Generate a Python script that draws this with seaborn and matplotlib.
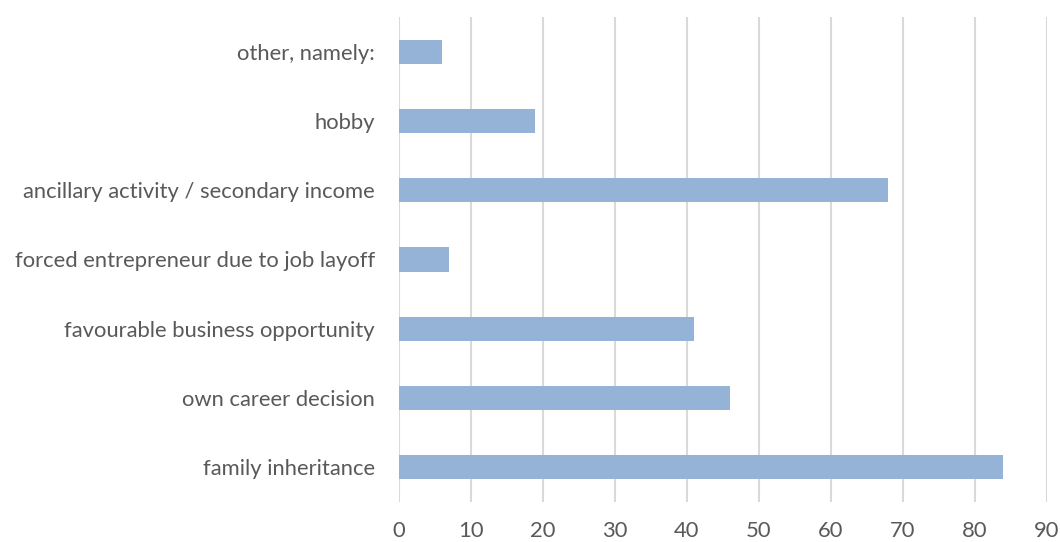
import matplotlib
matplotlib.use('Agg')
import matplotlib.pyplot as plt
import seaborn as sns
import pandas as pd

# data
categories = ['other, namely:', 'hobby', 'ancillary activity / secondary income',
              'forced entrepreneur due to job layoff', 'favourable business opportunity',
              'own career decision', 'family inheritance']
counts = [6, 19, 68, 7, 41, 46, 84]
xticks = [0, 10, 20, 30, 40, 50, 60, 70, 80, 90]

df = pd.DataFrame({'reason': categories, 'count': counts})

sns.set_style('white')
plt.rcParams['font.family'] = ['Lato', 'DejaVu Sans']

fig = plt.figure(figsize=(10.6, 5.42), dpi=100)
ax = fig.add_axes([0.376, 0.0746, 0.6113, 0.8934])

sns.barplot(data=df, x='count', y='reason', color='#95b3d7', saturation=1,
            width=0.35, orient='h', linewidth=0, ax=ax)

ax.set_xlim(0, 90)
ax.set_xticks(xticks)
ax.set_xlabel('')
ax.set_ylabel('')
ax.xaxis.grid(True, color='#d9d9d9', linewidth=1.5)
ax.set_axisbelow(True)
for s in ax.spines.values():
    s.set_visible(False)
ax.tick_params(axis='both', length=0, labelsize=15.8, colors='#595959')
ax.tick_params(axis='x', pad=14)
ax.tick_params(axis='y', pad=17)

fig.savefig('out.png', dpi=100)
